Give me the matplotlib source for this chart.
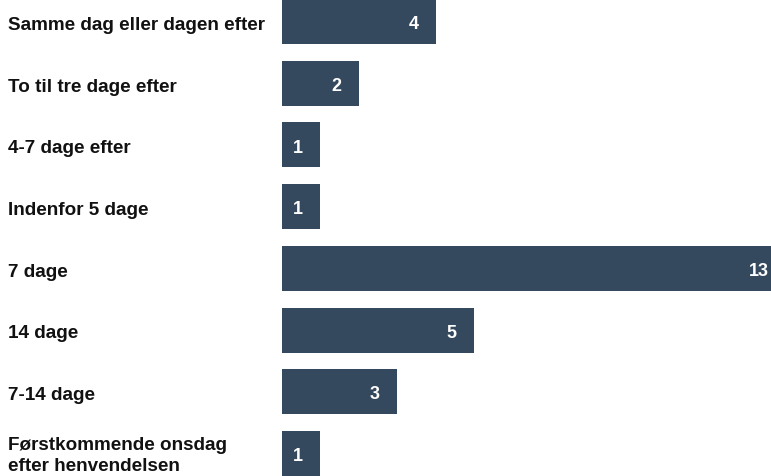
import matplotlib.pyplot as plt
import matplotlib.transforms as mtransforms

CATEGORIES = [
    'Samme dag eller dagen efter',
    'To til tre dage efter',
    '4-7 dage efter',
    'Indenfor 5 dage',
    '7 dage',
    '14 dage',
    '7-14 dage',
    'Førstkommende onsdag\nefter henvendelsen',
]
VALUES = [4, 2, 1, 1, 13, 5, 3, 1]

BAR_COLOR = '#34495e'
plt.rcParams['font.family'] = ['Liberation Sans', 'DejaVu Sans']

fig = plt.figure(figsize=(7.71, 4.77), dpi=100)
ax = fig.add_axes([282 / 771, 0, 1 - 282 / 771, 1])

y = list(range(len(VALUES)))
h = 0.73
ax.barh(y, VALUES, height=h, color=BAR_COLOR)
ax.set_ylim(len(VALUES) - 1 + h / 2, -h / 2)
ax.set_xlim(0, 12.74)
ax.axis('off')

# category labels at the left edge of the figure
trans = mtransforms.blended_transform_factory(fig.transFigure, ax.transData)
for yi, cat in zip(y, CATEGORIES):
    shift = -1 if '\n' in cat else -2
    ax.annotate(cat, (8 / 771, yi), xycoords=trans, xytext=(0, shift),
                textcoords='offset points', ha='left', va='center',
                fontsize=13.6, fontweight='bold', color='#111111',
                linespacing=1.3, annotation_clip=False)

# value labels inside the bar ends
for yi, v in zip(y, VALUES):
    ax.annotate(str(v), (v, yi), xytext=(-16, -1.5), textcoords='offset points',
                ha='center', va='center', fontsize=13, fontweight='bold',
                color='white', annotation_clip=False)

fig.savefig('out.png', dpi=100)
